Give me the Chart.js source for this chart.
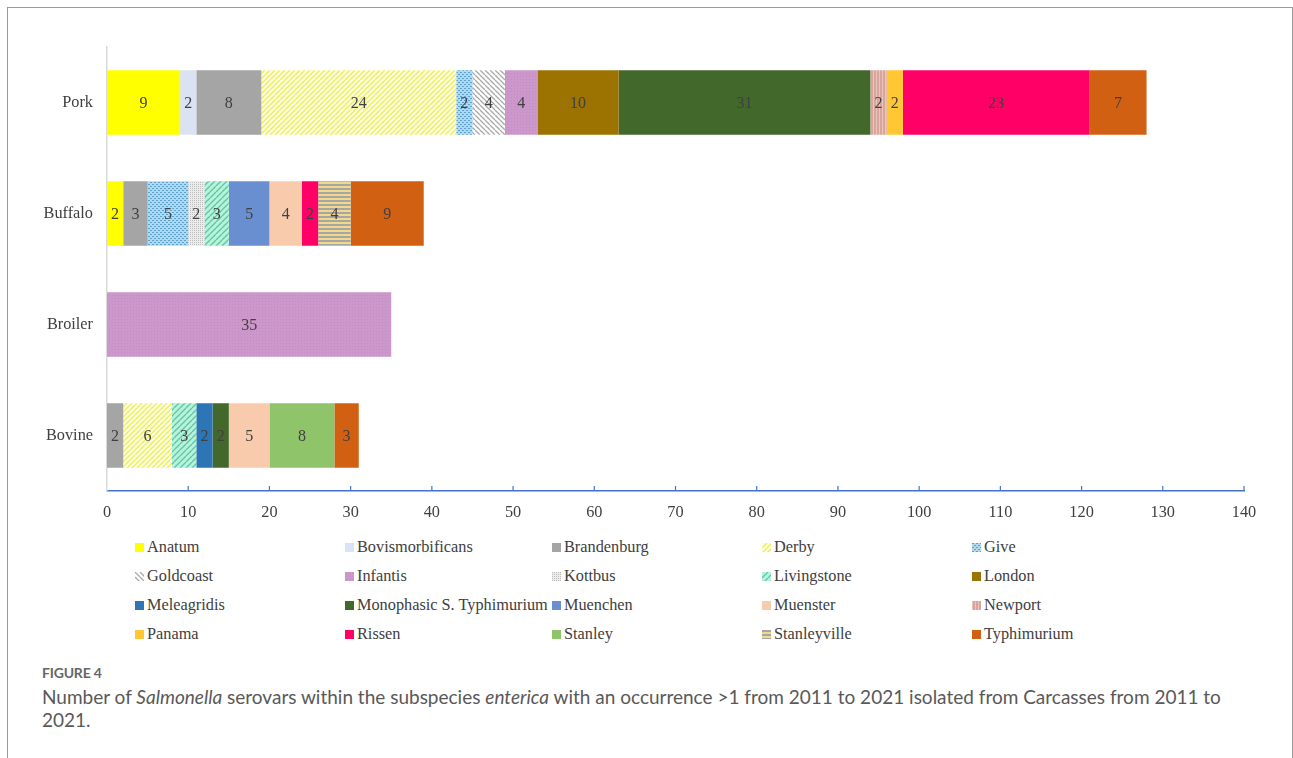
<!doctype html>
<html lang="en">
<head>
<meta charset="utf-8">
<title>Figure 4</title>
<script src="https://cdn.jsdelivr.net/npm/chart.js@4.4.1/dist/chart.umd.min.js"></script>
<style>
  html, body { margin: 0; padding: 0; background: #fff; }
  #frame {
    position: absolute; left: 7px; top: 7px; width: 1284px; height: 760px;
    border-left: 1.5px solid #9a9a9a; border-top: 1.5px solid #9a9a9a; border-right: 1.5px solid #9a9a9a;
  }
  #chartBox { position: absolute; left: 0; top: 0; width: 1293px; height: 530px; }
  #legend { position: absolute; left: 0; top: 537px; width: 1293px; }
  .item {
    position: absolute; font-size: 16.3px; font-family: "Liberation Serif", "Times New Roman", "DejaVu Serif", serif; color: #404040;
    white-space: nowrap; line-height: 20px;
  }
  .sw { display: inline-block; width: 9px; height: 9px; margin-right: 3px; vertical-align: 0px; }
  #caption { position: absolute; left: 42px; top: 664px; width: 1200px; font-family: Lato, sans-serif; color: #595959; }
  #caption .fig { font-size: 14px; font-weight: bold; color: #666; letter-spacing: -0.2px; }
  #caption .txt { font-size: 19px; line-height: 23px; margin-top: 4px; }
</style>
</head>
<body>
<div id="frame"></div>
<div id="chartBox"><canvas id="myChart"></canvas></div>
<div id="legend"></div>
<div id="caption">
  <div class="fig">FIGURE 4</div>
  <div class="txt">Number of <i>Salmonella</i> serovars within the subspecies <i>enterica</i> with an occurrence &gt;1 from 2011 to 2021 isolated from Carcasses from 2011 to 2021.</div>
</div>
<script>
// categories (top to bottom)
const categories = ['Pork', 'Buffalo', 'Broiler', 'Bovine'];

// serovar names in legend / stacking order
const serovars = ['Anatum', 'Bovismorbificans', 'Brandenburg', 'Derby', 'Give',
  'Goldcoast', 'Infantis', 'Kottbus', 'Livingstone', 'London',
  'Meleagridis', 'Monophasic S. Typhimurium', 'Muenchen', 'Muenster', 'Newport',
  'Panama', 'Rissen', 'Stanley', 'Stanleyville', 'Typhimurium'];

// counts per serovar: [Pork, Buffalo, Broiler, Bovine]
const anatum           = [9, 2, 0, 0];
const bovismorbificans = [2, 0, 0, 0];
const brandenburg      = [8, 3, 0, 2];
const derby            = [24, 0, 0, 6];
const give             = [2, 5, 0, 0];
const goldcoast        = [4, 0, 0, 0];
const infantis         = [4, 0, 35, 0];
const kottbus          = [0, 2, 0, 0];
const livingstone      = [0, 3, 0, 3];
const london           = [10, 0, 0, 0];
const meleagridis      = [0, 0, 0, 2];
const monophasic       = [31, 0, 0, 2];
const muenchen         = [0, 5, 0, 0];
const muenster         = [0, 4, 0, 5];
const newport          = [2, 0, 0, 0];
const panama           = [2, 0, 0, 0];
const rissen           = [23, 2, 0, 0];
const stanley          = [0, 0, 0, 8];
const stanleyville     = [0, 4, 0, 0];
const typhimurium      = [7, 9, 0, 3];

const seriesValues = [anatum, bovismorbificans, brandenburg, derby, give,
  goldcoast, infantis, kottbus, livingstone, london,
  meleagridis, monophasic, muenchen, muenster, newport,
  panama, rissen, stanley, stanleyville, typhimurium];

const xTicks = [0, 10, 20, 30, 40, 50, 60, 70, 80, 90, 100, 110, 120, 130, 140];

const serifFont = '"Liberation Serif", "Times New Roman", "DejaVu Serif", serif';

// small pattern tiles
function tile(size, draw) {
  const c = document.createElement('canvas');
  c.width = size; c.height = size;
  draw(c.getContext('2d'), size);
  return c;
}
function diag(bg, fg, size, back) {
  return tile(size, (g, s) => {
    g.fillStyle = bg; g.fillRect(0, 0, s, s);
    g.strokeStyle = fg; g.lineWidth = 1.3;
    for (let k = -1; k <= 1; k++) {
      g.beginPath();
      if (back) { g.moveTo(k * s, 0); g.lineTo(k * s + s, s); }
      else { g.moveTo(k * s, s); g.lineTo(k * s + s, 0); }
      g.stroke();
    }
  });
}
const tiles = {
  Derby: diag('#fdfde0', '#eded5a', 5, false),
  Goldcoast: diag('#ffffff', '#a9a9a9', 5, true),
  Livingstone: diag('#b8f2dc', '#5cc8a0', 6, false),
  Give: tile(4, (g, s) => {
    g.fillStyle = '#b2d8ee'; g.fillRect(0, 0, s, s);
    g.fillStyle = '#5aa2cf'; g.fillRect(0, 0, 2, 1); g.fillRect(2, 2, 2, 1);
  }),
  Kottbus: tile(4, (g, s) => {
    g.fillStyle = '#ececec'; g.fillRect(0, 0, s, s);
    g.fillStyle = '#bdbdbd'; g.fillRect(0, 0, 1, 1); g.fillRect(2, 2, 1, 1); g.fillRect(2, 0, 1, 1); g.fillRect(0, 2, 1, 1);
  }),
  Newport: tile(3, (g, s) => {
    g.fillStyle = '#d8a49c'; g.fillRect(0, 0, s, s);
    g.fillStyle = '#ebc4bd'; g.fillRect(0, 0, 1, s);
  }),
  Stanleyville: tile(4, (g, s) => {
    g.fillStyle = '#f0d98a'; g.fillRect(0, 0, s, s);
    g.fillStyle = '#a6a6a6'; g.fillRect(0, 0, s, 2);
  }),
  Infantis: tile(3, (g, s) => {
    g.fillStyle = '#cc97cb'; g.fillRect(0, 0, s, s);
    g.fillStyle = '#c48cc3'; g.fillRect(1, 1, 1, 1);
  })
};

const solid = {
  Anatum: '#ffff00', Bovismorbificans: '#dae3f3', Brandenburg: '#a5a5a5',
  London: '#9c7300', Meleagridis: '#2e75b6', 'Monophasic S. Typhimurium': '#43682b',
  Muenchen: '#6a8fd0', Muenster: '#f8cbad', Panama: '#ffc833', Rissen: '#ff0066',
  Stanley: '#8fc46a', Typhimurium: '#d26012'
};

const ctx = document.getElementById('myChart');
const pctx = ctx.getContext('2d');
function fillFor(name) {
  if (tiles[name]) return pctx.createPattern(tiles[name], 'repeat');
  return solid[name];
}

const datasets = serovars.map((name, i) => ({
  label: name,
  data: seriesValues[i].map(v => v === 0 ? null : v),
  backgroundColor: fillFor(name),
  borderWidth: 0,
  barPercentage: 0.58,
  categoryPercentage: 1
}));

// value labels centred in each segment
const segmentLabels = {
  id: 'segmentLabels',
  afterDatasetsDraw(chart) {
    const g = chart.ctx;
    g.save();
    g.font = '16px ' + serifFont;
    g.fillStyle = '#404040';
    g.textAlign = 'center';
    g.textBaseline = 'middle';
    chart.data.datasets.forEach((ds, di) => {
      const meta = chart.getDatasetMeta(di);
      meta.data.forEach((el, j) => {
        const v = ds.data[j];
        if (v == null) return;
        const p = el.getProps(['x', 'y', 'base'], true);
        g.fillText(String(v), (p.x + p.base) / 2, p.y + 1);
      });
    });
    g.restore();
  }
};

// small tick marks pointing up from the x axis
const upTicks = {
  id: 'upTicks',
  afterDraw(chart) {
    const xs = chart.scales.x;
    const g = chart.ctx;
    g.save();
    g.strokeStyle = '#4472c4';
    g.lineWidth = 1.2;
    xTicks.forEach(t => {
      const px = xs.getPixelForValue(t);
      if (t === 0) return;
      g.beginPath();
      g.moveTo(px, xs.top);
      g.lineTo(px, xs.top - 5);
      g.stroke();
    });
    g.restore();
  }
};

new Chart(ctx, {
  type: 'bar',
  data: { labels: categories, datasets: datasets },
  options: {
    indexAxis: 'y',
    responsive: true,
    maintainAspectRatio: false,
    animation: false,
    layout: { padding: { top: 47, right: 49, left: 0, bottom: 0 } },
    plugins: { legend: { display: false }, tooltip: { enabled: false } },
    scales: {
      x: {
        stacked: true, min: 0, max: 140,
        afterBuildTicks: s => { s.ticks = xTicks.map(v => ({ value: v })); },
        afterFit: s => { s.height = 39; },
        grid: { display: false, drawTicks: false },
        border: { color: '#4472c4', width: 1.5 },
        ticks: { padding: 12, color: '#404040', font: { family: serifFont, size: 16.3 } }
      },
      y: {
        stacked: true,
        afterFit: s => { s.width = 107; },
        grid: { display: false, drawTicks: false },
        border: { color: '#d9d9d9', width: 1.5 },
        ticks: { padding: 14, color: '#404040', font: { family: serifFont, size: 16.3 } }
      }
    }
  },
  plugins: [segmentLabels, upTicks]
});

// legend in five columns
const legend = document.getElementById('legend');
const colX = [135, 345, 552, 762, 972];
serovars.forEach((name, i) => {
  const d = document.createElement('div');
  d.className = 'item';
  d.style.left = colX[i % 5] + 'px';
  d.style.top = (Math.floor(i / 5) * 29) + 'px';
  const sw = document.createElement('span');
  sw.className = 'sw';
  if (tiles[name]) sw.style.backgroundImage = 'url(' + tiles[name].toDataURL() + ')';
  else sw.style.background = solid[name];
  d.appendChild(sw);
  d.appendChild(document.createTextNode(name));
  legend.appendChild(d);
});
</script>
</body>
</html>
